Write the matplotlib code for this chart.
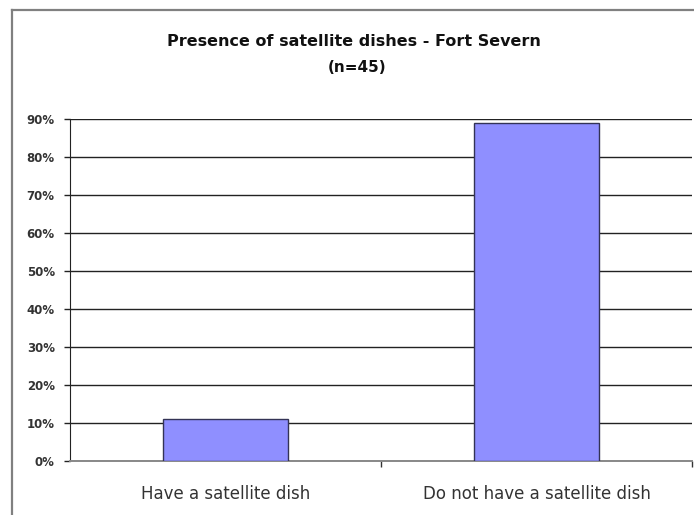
import matplotlib
matplotlib.use("Agg")
import matplotlib.pyplot as plt
from matplotlib.ticker import FuncFormatter

categories = ["Have a satellite dish", "Do not have a satellite dish"]
shares = [0.111, 0.889]
y_ticks = [0.0, 0.1, 0.2, 0.3, 0.4, 0.5, 0.6, 0.7, 0.8, 0.9]
title_lines = ["Presence of satellite dishes - Fort Severn", "(n=45)"]

plt.rcParams["font.family"] = ["DejaVu Sans"]

W, H = 694, 515
fig = plt.figure(figsize=(W / 100, H / 100), dpi=100)

# outer chart frame (left and top edges visible)
fig.add_artist(plt.Line2D([12 / W, 12 / W], [0, 1 - 10 / H], color="#808080", lw=1.6))
fig.add_artist(plt.Line2D([12 / W, 1.0], [1 - 10 / H, 1 - 10 / H], color="#808080", lw=1.6))

left, right, top, bottom = 70, 692, 119, 461
ax = fig.add_axes([left / W, 1 - bottom / H, (right - left) / W, (bottom - top) / H])

x = list(range(len(categories)))
ax.bar(x, shares, width=0.4, color="#8f8fff", edgecolor="#333355", linewidth=1.0, zorder=3)

ax.set_xlim(-0.5, len(categories) - 0.5)
ax.set_ylim(0, 0.9)
ax.set_yticks(y_ticks)
ax.yaxis.set_major_formatter(FuncFormatter(lambda v, p: f"{v * 100:.0f}%"))
ax.yaxis.grid(True, color="#222222", linewidth=1.0, zorder=0)
ax.set_axisbelow(True)

ax.set_xticks(x)
ax.set_xticklabels(categories, fontsize=12, color="#333333")
ax.set_xticks([0.5, 1.5], minor=True)
ax.tick_params(axis="x", which="major", length=0, pad=17)
ax.tick_params(axis="x", which="minor", length=4, width=1, color="#333333")
ax.tick_params(axis="y", length=4, width=1, color="#222222", labelsize=8.5,
               pad=7, labelcolor="#333333")
for lbl in ax.get_yticklabels():
    lbl.set_fontweight("bold")

for side in ("top", "right"):
    ax.spines[side].set_visible(False)
ax.spines["left"].set_color("#222222")
ax.spines["bottom"].set_color("#888888")
ax.spines["bottom"].set_linewidth(1.4)

fig.text(354 / W, 1 - 41 / H, title_lines[0], ha="center", va="center",
         fontsize=11.5, fontweight="bold", color="#111111")
fig.text(357 / W, 1 - 68 / H, title_lines[1], ha="center", va="center",
         fontsize=11, fontweight="bold", color="#111111")

fig.savefig("out.png", dpi=100)
